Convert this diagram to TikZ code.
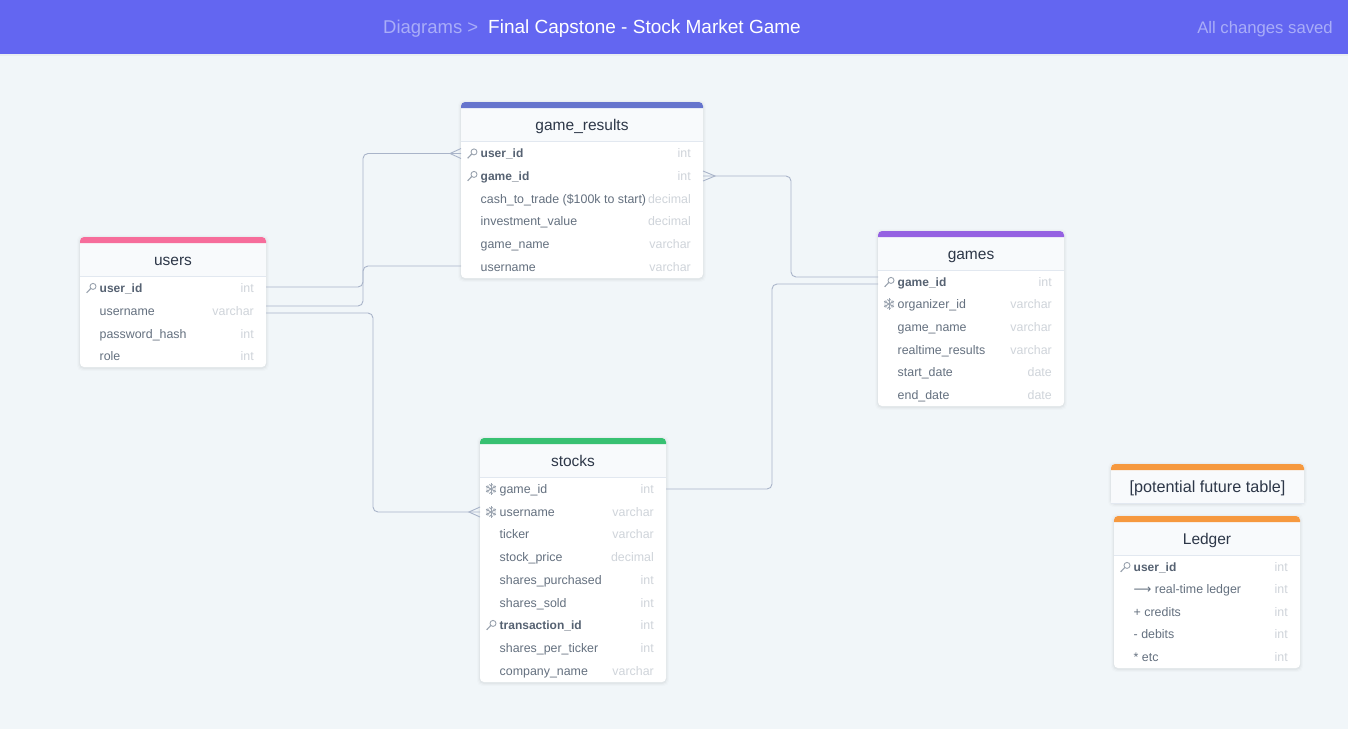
\documentclass[tikz,border=0pt]{standalone}
\usepackage{fontspec}
\setmainfont{Liberation Sans}
\newfontfamily\dvfont{DejaVu Sans}
\definecolor{pagebg}{HTML}{F1F6F9}
\definecolor{barbg}{HTML}{6366F1}
\definecolor{barsoft}{HTML}{A9ADF8}
\definecolor{headbg}{HTML}{F8FAFC}
\definecolor{headline}{HTML}{E2E8F0}
\definecolor{titlecol}{HTML}{2D3748}
\definecolor{fieldcol}{HTML}{64707F}
\definecolor{boldcol}{HTML}{566272}
\definecolor{typecol}{HTML}{CFD4DA}
\definecolor{linecol}{HTML}{A9B4C9}
\definecolor{iconcol}{HTML}{9AA3AF}
\definecolor{cblue}{HTML}{6574CD}
\definecolor{cpink}{HTML}{F66D9B}
\definecolor{cpurple}{HTML}{9561E2}
\definecolor{cgreen}{HTML}{38C172}
\definecolor{corange}{HTML}{F6993F}
\newcommand\bname[1]{{\fontsize{12}{14}\selectfont\bfseries\color{boldcol}#1}}
\tikzset{
  x=1pt, y=-1pt,
  conn/.style={draw=linecol, line width=0.9pt, rounded corners=5pt},
  crow/.style={draw=linecol, line width=0.9pt},
  namelabel/.style={anchor=base west, inner sep=0pt, text=fieldcol, font=\fontsize{12.4}{14}\selectfont},
  typelabel/.style={anchor=base east, inner sep=0pt, text=typecol, font=\fontsize{12.4}{14}\selectfont},
  titlelabel/.style={anchor=base, inner sep=0pt, text=titlecol, font=\fontsize{15.5}{18}\selectfont},
  rowbox/.style={inner sep=0pt, outer sep=0pt, minimum height=22pt},
  cardbox/.style={inner sep=0pt, outer sep=0pt, fill=white, rounded corners=4pt},
  keyicon/.pic={
    \draw[iconcol, line width=0.9pt] (2,-1.6) circle[radius=3pt];
    \draw[iconcol, line width=1.2pt] (0,0.3) -- (-4.4,4.8);
  },
  flakeicon/.pic={
    \foreach \a in {30,90,150}{
      \draw[iconcol, line width=1pt] (\a:-5.6pt) -- (\a:5.6pt);
    }
    \foreach \a in {30,90,150,210,270,330}{
      \draw[iconcol, line width=0.8pt] (\a:3pt) -- ++(\a+45:2.2pt);
      \draw[iconcol, line width=0.8pt] (\a:3pt) -- ++(\a-45:2.2pt);
    }
  },
}
% id, x1, x2, top, header bottom, bottom, colour, title
\newcommand\tablecard[8]{
  \foreach \s/\o in {3/.012,2/.02,1/.03}{
    \fill[black, opacity=\o, rounded corners=5pt] ({#2-\s},{#4-\s+1}) rectangle ({#3+\s},{#6+\s+1});
  }
  \node[cardbox, minimum width={#3-#2}, minimum height={#6-#4}] (#1) at ({(#2+#3)/2},{(#4+#6)/2}) {};
  \fill[headbg] (#2,{#4+5}) rectangle (#3,#5);
  \draw[headline, line width=1pt] (#2,#5) -- (#3,#5);
  \fill[#7] (#2,{#4+6}) [rounded corners=4pt] -- (#2,#4) -- (#3,#4) [sharp corners] -- (#3,{#4+6}) -- cycle;
  \node[titlelabel] (#1-title) at ({(#2+#3)/2},{(#4+6+#5)/2+5.5}) {#8};
}
% id, x1, x2, y, name, type
\newcommand\fieldrow[6]{
  \node[rowbox, minimum width={#3-#2}] (#1) at ({(#2+#3)/2},#4) {};
  \node[namelabel] (#1-n) at ({#2+19.5},{#4+4.4}) {#5};
  \node[typelabel] (#1-t) at ({#3-12},{#4+4.4}) {#6};
}
\newcommand\keyon[1]{\pic at ([xshift=11pt]#1.west) {keyicon};}
\newcommand\flakeon[1]{\pic at ([xshift=11pt]#1.west) {flakeicon};}
\begin{document}
\begin{tikzpicture}
\useasboundingbox (0,0) rectangle (1348,729);
\fill[pagebg] (0,0) rectangle (1348,729);
\fill[black, opacity=.03] (0,54) rectangle (1348,56);
\node[minimum width=1348pt, minimum height=54pt, inner sep=0pt, outer sep=0pt, fill=barbg] (bar) at (674,27) {};
\node[anchor=base west, inner sep=0pt, text=barsoft, font=\fontsize{18.5}{20}\selectfont] (crumb) at (383,33.3) {Diagrams >};
\node[anchor=base west, inner sep=0pt, text=white, font=\fontsize{19}{20}\selectfont] (diagramtitle) at (488,33.3) {Final Capstone - Stock Market Game};
\node[anchor=base east, inner sep=0pt, text=barsoft, font=\fontsize{16.7}{20}\selectfont] (saved) at (1333,33.3) {All changes saved};

% game_results
\tablecard{gameresults}{461}{703}{102}{141}{278}{cblue}{game\_results}
\fieldrow{gr1}{461}{703}{153.5}{\bname{user\_id}}{int}
\fieldrow{gr2}{461}{703}{176}{\bname{game\_id}}{int}
\fieldrow{gr3}{461}{703}{199}{cash\_to\_trade (\$100k to start)}{decimal}
\fieldrow{gr4}{461}{703}{221}{investment\_value}{decimal}
\fieldrow{gr5}{461}{703}{244}{game\_name}{varchar}
\fieldrow{gr6}{461}{703}{267}{username}{varchar}
\keyon{gr1}\keyon{gr2}

% users
\tablecard{users}{80}{266}{237}{276}{367}{cpink}{users}
\fieldrow{us1}{80}{266}{288}{\bname{user\_id}}{int}
\fieldrow{us2}{80}{266}{311}{username}{varchar}
\fieldrow{us3}{80}{266}{334}{password\_hash}{int}
\fieldrow{us4}{80}{266}{356}{role}{int}
\keyon{us1}

% games
\tablecard{games}{878}{1064}{231}{270}{406}{cpurple}{games}
\fieldrow{ga1}{878}{1064}{282}{\bname{game\_id}}{int}
\fieldrow{ga2}{878}{1064}{304}{organizer\_id}{varchar}
\fieldrow{ga3}{878}{1064}{327}{game\_name}{varchar}
\fieldrow{ga4}{878}{1064}{350}{realtime\_results}{varchar}
\fieldrow{ga5}{878}{1064}{372}{start\_date}{date}
\fieldrow{ga6}{878}{1064}{395}{end\_date}{date}
\keyon{ga1}\flakeon{ga2}

% stocks
\tablecard{stocks}{480}{666}{438}{477}{682}{cgreen}{stocks}
\fieldrow{st1}{480}{666}{489}{game\_id}{int}
\fieldrow{st2}{480}{666}{512}{username}{varchar}
\fieldrow{st3}{480}{666}{534}{ticker}{varchar}
\fieldrow{st4}{480}{666}{557}{stock\_price}{decimal}
\fieldrow{st5}{480}{666}{580}{shares\_purchased}{int}
\fieldrow{st6}{480}{666}{603}{shares\_sold}{int}
\fieldrow{st7}{480}{666}{625}{\bname{transaction\_id}}{int}
\fieldrow{st8}{480}{666}{648}{shares\_per\_ticker}{int}
\fieldrow{st9}{480}{666}{671}{company\_name}{varchar}
\flakeon{st1}\flakeon{st2}\keyon{st7}

% potential future table
\tablecard{future}{1111}{1304}{464}{503}{503}{corange}{\fontsize{16.2}{18}\selectfont [potential future table]}

% Ledger
\tablecard{ledger}{1114}{1300}{516}{555}{668}{corange}{Ledger}
\fieldrow{le1}{1114}{1300}{567}{\bname{user\_id}}{int}
\fieldrow{le2}{1114}{1300}{589}{{\dvfont ⟶} real-time ledger}{int}
\fieldrow{le3}{1114}{1300}{612}{+ credits}{int}
\fieldrow{le4}{1114}{1300}{634}{- debits}{int}
\fieldrow{le5}{1114}{1300}{657}{* etc}{int}
\keyon{le1}

% routing channels and ports
\coordinate (chA) at (363,0);
\coordinate (chB) at (373,0);
\coordinate (chC) at (791,0);
\coordinate (chD) at (772,0);
\coordinate (pUa) at ([yshift=1pt]us1.east);
\coordinate (pUb) at ([yshift=5pt]us2.east);
\coordinate (pUc) at ([yshift=-2pt]us2.east);
\coordinate (pRn) at ([yshift=1pt]gr6.west);
\coordinate (pGa) at ([yshift=5pt]ga1.west);
\coordinate (pGb) at ([yshift=-2pt]ga1.west);

% connectors
\draw[conn] (pUa) -- (chA |- pUa) -- (chA |- gr1.west) -- (gr1.west);
\draw[conn] (pUb) -- (chA |- pUb) -- (chA |- pRn) -- (pRn);
\draw[conn] (pUc) -- (chB |- pUc) -- (chB |- st2.west) -- (st2.west);
\draw[conn] (gr2.east) -- (chC |- gr2.east) -- (chC |- pGa) -- (pGa);
\draw[conn] (st1.east) -- (chD |- st1.east) -- (chD |- pGb) -- (pGb);

% crow's feet
\draw[crow] ([yshift=5pt]gr1.west) -- ([xshift=-11pt]gr1.west) -- ([yshift=-5pt]gr1.west);
\draw[crow] ([yshift=5pt]gr2.east) -- ([xshift=12pt]gr2.east) -- ([yshift=-5pt]gr2.east);
\draw[crow] ([yshift=5pt]st2.west) -- ([xshift=-11pt]st2.west) -- ([yshift=-5pt]st2.west);
\end{tikzpicture}
\end{document}
